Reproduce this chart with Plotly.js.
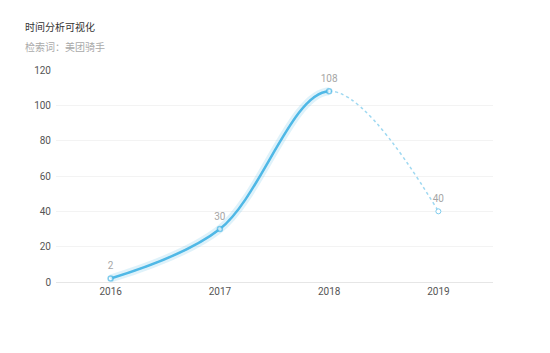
<!DOCTYPE html>
<html>
<head>
<meta charset="utf-8">
<script src="https://cdn.plot.ly/plotly-3.0.1.min.js"></script>
<style>html,body{margin:0;padding:0;background:#fff;}#chart{width:550px;height:353px;}</style>
</head>
<body>
<div id="chart"></div>
<script>
const years = ['2016', '2017', '2018', '2019'];
const values = [2, 30, 108, 40];
const actualCount = 3; // 2016-2018 actual (solid), 2019 forecast (dotted)
const yTicks = [0, 20, 40, 60, 80, 100, 120];
const titleText = '时间分析可视化';
const subtitleText = '检索词：美团骑手';

const lineColor = '#4fb8e6';
const fontFam = 'Roboto, "Noto Sans CJK SC", sans-serif';
const smooth = 1.0;

const labels = values.map(String);

const traces = [
  // full dotted curve on the main axis (visible only after 2018)
  {
    x: years, y: values, type: 'scatter', mode: 'lines', xaxis: 'x', yaxis: 'y',
    line: {color: 'rgba(79,184,230,0.55)', width: 1.5, dash: 'dot', shape: 'spline', smoothing: smooth},
    hoverinfo: 'skip', showlegend: false
  },
  // forecast point
  {
    x: [years[3]], y: [values[3]], type: 'scatter', mode: 'markers', xaxis: 'x', yaxis: 'y',
    marker: {symbol: 'circle', size: 5, color: '#fff', line: {color: 'rgba(79,184,230,0.7)', width: 1}},
    showlegend: false
  },
  // glow under the solid curve, clipped at 2018 by axis x2
  {
    x: years, y: values, type: 'scatter', mode: 'lines', xaxis: 'x2', yaxis: 'y',
    line: {color: 'rgba(79,184,230,0.18)', width: 8, shape: 'spline', smoothing: smooth},
    hoverinfo: 'skip', showlegend: false
  },
  // solid curve, clipped at 2018
  {
    x: years, y: values, type: 'scatter', mode: 'lines+markers', xaxis: 'x2', yaxis: 'y',
    cliponaxis: false,
    line: {color: lineColor, width: 2.5, shape: 'spline', smoothing: smooth},
    marker: {symbol: 'circle', size: years.map((_, i) => i < actualCount ? 5 : 0), color: '#fff',
             line: {color: lineColor, width: 1.5}},
    showlegend: false
  },
  // value labels
  {
    x: years, y: values, type: 'scatter', mode: 'markers+text', xaxis: 'x', yaxis: 'y',
    cliponaxis: false,
    marker: {size: 9, color: 'rgba(0,0,0,0)'},
    text: labels, textposition: 'top center',
    textfont: {color: '#a6a6a6', size: 10, family: fontFam},
    hoverinfo: 'skip', showlegend: false
  }
];

const layout = {
  width: 550, height: 353,
  margin: {l: 56, r: 57, t: 70, b: 71},
  paper_bgcolor: '#fff', plot_bgcolor: 'rgba(0,0,0,0)',
  font: {family: fontFam, size: 10, color: '#555'},
  title: {
    text: titleText, xref: 'container', yref: 'container', x: 25/550, xanchor: 'left',
    y: 1 - 27/353, yanchor: 'middle',
    font: {size: 10, color: '#333', family: '"Noto Sans CJK SC", sans-serif'}
  },
  annotations: [{
    text: subtitleText, xref: 'paper', yref: 'paper',
    x: (23 - 56) / 437, xanchor: 'left', y: 1 + (70 - 46) / 212, yanchor: 'middle',
    showarrow: false, font: {size: 10, color: '#aaa', family: '"Noto Sans CJK SC", sans-serif'}
  }],
  xaxis: {
    type: 'category', categoryarray: years, categoryorder: 'array', range: [-0.5, 3.5], domain: [0, 1],
    showgrid: false, zeroline: false, showline: true, linecolor: '#e6e6e6', linewidth: 1,
    ticks: '', tickfont: {size: 10, color: '#555'}, fixedrange: true
  },
  xaxis2: {
    type: 'category', categoryarray: years, categoryorder: 'array', range: [-0.5, 2.0], domain: [0, 0.625],
    anchor: 'y', visible: false, showgrid: false, zeroline: false, fixedrange: true
  },
  yaxis: {
    range: [0, 120], tickvals: yTicks, ticktext: yTicks.map(String),
    showgrid: true, gridcolor: '#f3f3f3', zeroline: false, showline: false,
    ticks: '', ticklabelstandoff: 4, tickfont: {size: 10, color: '#555'}, fixedrange: true
  },
  showlegend: false
};

Plotly.newPlot('chart', traces, layout, {displayModeBar: false, staticPlot: true});
</script>
</body>
</html>
